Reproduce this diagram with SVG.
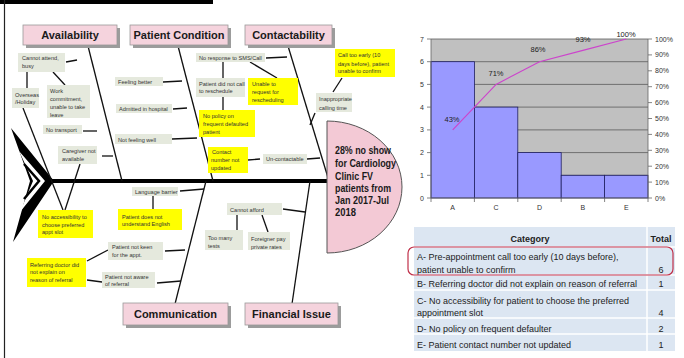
<svg xmlns="http://www.w3.org/2000/svg" width="684" height="358" viewBox="0 0 684 358">
<defs>
<style>
.cat{font:bold 11px "Liberation Sans",Arial,sans-serif;fill:#1a1a1a;text-anchor:middle}
.cbox{fill:#F5D3DD;stroke:#9a9a9a;stroke-width:0.8}
.shadow{fill:#9c9c9c}
.s{font:5.6px "Liberation Sans",Arial,sans-serif;fill:#333}
.g{fill:#E5E9DD}
.y{fill:#FFFF00}
.ln{stroke:#111;stroke-width:1.3;fill:none}
.head{font:bold 10.8px "Liberation Sans",Arial,sans-serif;fill:#1a1a1a}
.ax{font:7px "Liberation Sans",Arial,sans-serif;fill:#333}
.grid{stroke:#5a5a5a;stroke-width:0.8}
.bar{fill:#9999FF;stroke:#1f1f5f;stroke-width:0.8}
.tb{font:9px "Liberation Sans",Arial,sans-serif;fill:#222}
.tbh{font:bold 9px "Liberation Sans",Arial,sans-serif;fill:#222;text-anchor:middle}
</style>
</defs>
<rect width="684" height="358" fill="#fff"/>
<!-- frame -->
<rect x="0" y="0" width="213" height="4" fill="#000"/>
<line x1="4.5" y1="0" x2="4.5" y2="358" stroke="#222" stroke-width="1.2"/>

<!-- tail -->
<g id="tail">
<polygon points="11,128 54,181 13,242 30,181" fill="#000"/>
<polygon points="19,151 45,181 20,212 33,181" fill="#fff"/>
<polyline points="24,164 39,181 24,199" fill="none" stroke="#000" stroke-width="2.5"/>
</g>

<!-- connectors -->
<g id="connectors">
<line x1="50" y1="181" x2="330" y2="181" stroke="#000" stroke-width="4"/>
<line class="ln" x1="88" y1="46" x2="122" y2="181"/>
<line class="ln" x1="178" y1="46" x2="213" y2="181"/>
<line class="ln" x1="288" y1="46" x2="329" y2="181"/>
<line class="ln" x1="206" y1="181" x2="175" y2="304"/>
<line class="ln" x1="310" y1="181" x2="292" y2="304"/>
<line class="ln" x1="66" y1="62" x2="77" y2="60"/>
<line class="ln" x1="27" y1="72" x2="27" y2="88"/>
<line class="ln" x1="53" y1="72" x2="65" y2="85"/>
<line class="ln" x1="83" y1="131" x2="97" y2="131"/>
<line class="ln" x1="102" y1="156" x2="113" y2="156"/>
<line class="ln" x1="23" y1="108" x2="63" y2="210"/>
<line class="ln" x1="80" y1="164" x2="65" y2="210"/>
<line class="ln" x1="163" y1="82" x2="182" y2="81"/>
<line class="ln" x1="173" y1="109" x2="187" y2="108"/>
<line class="ln" x1="172" y1="139" x2="197" y2="138"/>
<line class="ln" x1="266" y1="58" x2="287" y2="57"/>
<line class="ln" x1="223" y1="62" x2="223" y2="78"/>
<line class="ln" x1="250" y1="62" x2="277" y2="78"/>
<line class="ln" x1="223" y1="97" x2="223" y2="110"/>
<line class="ln" x1="248" y1="160" x2="260" y2="159"/>
<line class="ln" x1="307" y1="159" x2="320" y2="158"/>
<line class="ln" x1="342" y1="78" x2="333" y2="92"/>
<line class="ln" x1="315" y1="113" x2="310" y2="125"/>
<line class="ln" x1="180" y1="191" x2="204" y2="189"/>
<line class="ln" x1="153" y1="196" x2="153" y2="209"/>
<line class="ln" x1="165" y1="251" x2="185" y2="250"/>
<line class="ln" x1="108" y1="250" x2="87" y2="261"/>
<line class="ln" x1="87" y1="280" x2="102" y2="282"/>
<line class="ln" x1="157" y1="283" x2="181" y2="281"/>
<line class="ln" x1="283" y1="209" x2="305" y2="212"/>
<line class="ln" x1="237" y1="215" x2="237" y2="230"/>
<line class="ln" x1="262" y1="215" x2="268" y2="232"/>
</g>

<!-- category boxes -->
<g id="availability"><rect class="shadow" x="26" y="28" width="94" height="20"/><rect class="cbox" x="23" y="25" width="94" height="20"/><text class="cat" x="70" y="39">Availability</text></g>
<g id="patient-condition"><rect class="shadow" x="133" y="28" width="98" height="20"/><rect class="cbox" x="130" y="25" width="98" height="20"/><text class="cat" x="179" y="39">Patient Condition</text></g>
<g id="contactability"><rect class="shadow" x="248" y="28" width="87" height="20"/><rect class="cbox" x="245" y="25" width="87" height="20"/><text class="cat" x="288.5" y="39">Contactability</text></g>
<g id="communication"><rect class="shadow" x="126" y="306" width="105" height="22"/><rect class="cbox" x="123" y="303" width="105" height="22"/><text class="cat" x="175.5" y="318">Communication</text></g>
<g id="financial-issue"><rect class="shadow" x="248" y="306" width="93" height="22"/><rect class="cbox" x="245" y="303" width="93" height="22"/><text class="cat" x="291.5" y="318">Financial Issue</text></g>

<!-- cause boxes -->
<g id="cannot-attend"><rect class="g" x="18" y="53" width="47" height="19"/><text class="s" x="22" y="60">Cannot attend,</text><text class="s" x="22" y="68">busy</text></g>
<g id="overseas"><rect class="g" x="12" y="88" width="27" height="20"/><text class="s" x="15" y="96.5">Overseas</text><text class="s" x="15" y="104">/Holiday</text></g>
<g id="work"><rect class="g" x="47" y="85" width="43" height="33"/><text class="s" x="50" y="93">Work</text><text class="s" x="50" y="101">commitment,</text><text class="s" x="50" y="109">unable to take</text><text class="s" x="50" y="117">leave</text></g>
<g id="no-transport"><rect class="g" x="43" y="125" width="39" height="9"/><text class="s" x="46" y="132">No transport</text></g>
<g id="caregiver"><rect class="g" x="58" y="146" width="39" height="18"/><text class="s" x="62" y="153">Caregiver not</text><text class="s" x="62" y="160.5">available</text></g>
<g id="no-accessibility"><rect class="y" x="38" y="210" width="55" height="28"/><text class="s" x="42" y="219">No accessibility to</text><text class="s" x="42" y="226.5">choose preferred</text><text class="s" x="42" y="234">appt slot</text></g>

<g id="feeling-better"><rect class="g" x="115" y="77" width="48" height="9"/><text class="s" x="118" y="84">Feeling better</text></g>
<g id="admitted"><rect class="g" x="116" y="104" width="56" height="9"/><text class="s" x="119" y="111">Admitted in hospital</text></g>
<g id="not-feeling-well"><rect class="g" x="115" y="134" width="57" height="10"/><text class="s" x="118" y="141.5">Not feeling well</text></g>

<g id="no-response"><rect class="g" x="196" y="53" width="69" height="9"/><text class="s" x="199" y="60">No response to SMS/Call</text></g>
<g id="did-not-call"><rect class="g" x="196" y="78" width="49" height="19"/><text class="s" x="199" y="85.5">Patient did not call</text><text class="s" x="199" y="93">to reschedule</text></g>
<g id="unable-request"><rect class="y" x="248" y="78" width="50" height="27"/><text class="s" x="252" y="86">Unable to</text><text class="s" x="252" y="94">request for</text><text class="s" x="252" y="101.5">rescheduling</text></g>
<g id="no-policy"><rect class="y" x="199" y="110" width="56" height="27"/><text class="s" x="203" y="118">No policy on</text><text class="s" x="203" y="126">frequent defaulted</text><text class="s" x="203" y="134">patient</text></g>
<g id="contact-number"><rect class="y" x="208" y="147" width="40" height="26"/><text class="s" x="212" y="154">Contact</text><text class="s" x="211" y="162">number not</text><text class="s" x="211" y="170">updated</text></g>
<g id="uncontactable"><rect class="g" x="263" y="154" width="44" height="10"/><text class="s" x="266" y="161">Un-contactable</text></g>
<g id="call-too-early"><rect class="y" x="335" y="49" width="60" height="28"/><text class="s" x="338" y="57">Call too early (10</text><text class="s" x="338" y="65.5">days before), patient</text><text class="s" x="338" y="73">unable to confirm</text></g>
<g id="inappropriate"><rect class="g" x="316" y="93" width="36" height="19"/><text class="s" x="319" y="101">Inappropriate</text><text class="s" x="319" y="109.5">calling time</text></g>

<g id="language-barrier"><rect class="g" x="132" y="187" width="46" height="9"/><text class="s" x="135" y="193.5">Language barrier</text></g>
<g id="not-understand"><rect class="y" x="118" y="209" width="64" height="21"/><text class="s" x="122" y="218.5">Patient does not</text><text class="s" x="122" y="226">understand English</text></g>
<g id="not-keen"><rect class="g" x="108" y="242" width="55" height="18"/><text class="s" x="112" y="248.5">Patient not keen</text><text class="s" x="112" y="256.5">for the appt.</text></g>
<g id="referring"><rect class="y" x="27" y="258" width="59" height="29"/><text class="s" x="30" y="266.5">Referring doctor did</text><text class="s" x="30" y="274">not explain  on</text><text class="s" x="30" y="281.5">reason of referral</text></g>
<g id="not-aware"><rect class="g" x="102" y="272" width="53" height="16"/><text class="s" x="105" y="278.5">Patient not aware</text><text class="s" x="105" y="285.5">of referral</text></g>

<g id="cannot-afford"><rect class="g" x="227" y="203" width="55" height="12"/><text class="s" x="230" y="211.5">Cannot afford</text></g>
<g id="too-many-tests"><rect class="g" x="205" y="230" width="38" height="20"/><text class="s" x="208" y="239.5">Too many</text><text class="s" x="208" y="247.5">tests</text></g>
<g id="foreigner"><rect class="g" x="248" y="232" width="42" height="18"/><text class="s" x="251" y="240.5">Foreigner pay</text><text class="s" x="251" y="248.5">private rates</text></g>

<!-- head -->
<g id="head">
<path d="M327,121 A75,66 0 0 1 327,253 Z" fill="#F3C9D5" stroke="#555" stroke-width="1"/>
<text class="head" x="335" y="154" textLength="56" lengthAdjust="spacingAndGlyphs">28% no show</text>
<text class="head" x="335" y="167" textLength="61" lengthAdjust="spacingAndGlyphs">for Cardiology</text>
<text class="head" x="335" y="180" textLength="38" lengthAdjust="spacingAndGlyphs">Clinic FV</text>
<text class="head" x="335" y="192" textLength="56" lengthAdjust="spacingAndGlyphs">patients from</text>
<text class="head" x="335" y="204" textLength="54" lengthAdjust="spacingAndGlyphs">Jan 2017-Jul</text>
<text class="head" x="335" y="216" textLength="21" lengthAdjust="spacingAndGlyphs">2018</text>
</g>

<!-- Pareto chart -->
<g id="chart">
<rect x="431" y="39" width="217" height="159" fill="#C0C0C0"/>
<line class="grid" x1="431" y1="39" x2="648" y2="39"/>
<line class="grid" x1="431" y1="61.7" x2="648" y2="61.7"/>
<line class="grid" x1="431" y1="84.4" x2="648" y2="84.4"/>
<line class="grid" x1="431" y1="107.1" x2="648" y2="107.1"/>
<line class="grid" x1="431" y1="129.9" x2="648" y2="129.9"/>
<line class="grid" x1="431" y1="152.6" x2="648" y2="152.6"/>
<line class="grid" x1="431" y1="175.3" x2="648" y2="175.3"/>
<rect class="bar" x="431" y="61.7" width="43.4" height="136.3"/>
<rect class="bar" x="474.4" y="107.1" width="43.4" height="90.9"/>
<rect class="bar" x="517.8" y="152.6" width="43.4" height="45.4"/>
<rect class="bar" x="561.2" y="175.3" width="43.4" height="22.7"/>
<rect class="bar" x="604.6" y="175.3" width="43.4" height="22.7"/>
<g stroke="#666" stroke-width="0.8">
<line x1="431" y1="39" x2="431" y2="198"/>
<line x1="431" y1="198" x2="648" y2="198"/>
<line x1="648" y1="39" x2="648" y2="198"/>
<path d="M427,39H431M427,61.7H431M427,84.4H431M427,107.1H431M427,129.9H431M427,152.6H431M427,175.3H431M427,198H431"/>
<path d="M648,39H652M648,54.9H652M648,70.8H652M648,86.7H652M648,102.6H652M648,118.5H652M648,134.4H652M648,150.3H652M648,166.2H652M648,182.1H652M648,198H652"/>
<path d="M431,198V202M474.4,198V202M517.8,198V202M561.2,198V202M604.6,198V202M648,198V202"/>
</g>
<polyline points="452.7,129.9 496.1,84.4 539.5,61.7 582.9,50.4 626.3,39" fill="none" stroke="#CC44CC" stroke-width="1.2"/>
<g class="ax" text-anchor="end">
<text x="424" y="41.5">7</text><text x="424" y="64.2">6</text><text x="424" y="86.9">5</text><text x="424" y="109.6">4</text><text x="424" y="132.4">3</text><text x="424" y="155.1">2</text><text x="424" y="177.8">1</text><text x="424" y="200.5">0</text>
</g>
<g class="ax">
<text x="655" y="41.5">100%</text><text x="655" y="57.4">90%</text><text x="655" y="73.3">80%</text><text x="655" y="89.2">70%</text><text x="655" y="105.1">60%</text><text x="655" y="121">50%</text><text x="655" y="136.9">40%</text><text x="655" y="152.8">30%</text><text x="655" y="168.7">20%</text><text x="655" y="184.6">10%</text><text x="655" y="200.5">0%</text>
</g>
<g class="ax" text-anchor="middle">
<text x="452.7" y="210">A</text><text x="496.1" y="210">C</text><text x="539.5" y="210">D</text><text x="582.9" y="210">B</text><text x="626.3" y="210">E</text>
</g>
<g class="ax" text-anchor="middle" style="font-size:7.5px;fill:#222">
<text x="452" y="122">43%</text><text x="496" y="76">71%</text><text x="538" y="52">86%</text><text x="583" y="42">93%</text><text x="626" y="37">100%</text>
</g>
</g>

<!-- table -->
<g id="table">
<rect x="414" y="227" width="261" height="124" fill="#DCE6F2"/>
<g stroke="#fff" stroke-width="1.5">
<line x1="414" y1="247" x2="675" y2="247"/>
<line x1="414" y1="275" x2="675" y2="275"/>
<line x1="414" y1="290" x2="675" y2="290"/>
<line x1="414" y1="318" x2="675" y2="318"/>
<line x1="414" y1="334" x2="675" y2="334"/>
<line x1="647" y1="227" x2="647" y2="351"/>
</g>
<text class="tbh" x="530" y="241.5">Category</text>
<text class="tbh" x="661" y="241.5">Total</text>
<text class="tb" x="417" y="260">A- Pre-appointment call too early (10 days before),</text>
<text class="tb" x="417" y="272.5">patient unable to confirm</text>
<text class="tb" x="661" y="272.5" text-anchor="middle">6</text>
<text class="tb" x="417" y="287">B- Referring doctor did not explain on reason of referral</text>
<text class="tb" x="661" y="287" text-anchor="middle">1</text>
<text class="tb" x="417" y="304">C- No accessibility for patient to choose the preferred</text>
<text class="tb" x="417" y="316">appointment slot</text>
<text class="tb" x="661" y="316" text-anchor="middle">4</text>
<text class="tb" x="417" y="331.5">D- No policy on frequent defaulter</text>
<text class="tb" x="661" y="331.5" text-anchor="middle">2</text>
<text class="tb" x="417" y="348">E- Patient contact number not updated</text>
<text class="tb" x="661" y="348" text-anchor="middle">1</text>
<rect x="408" y="247" width="265" height="28" rx="6" fill="none" stroke="#C0304A" stroke-width="1.2"/>
</g>
</svg>
